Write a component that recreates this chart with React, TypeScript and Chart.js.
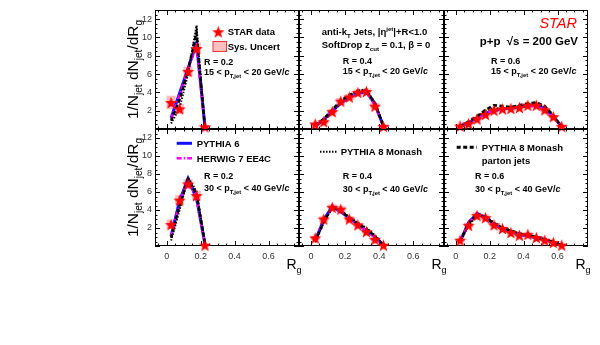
import React, { useEffect, useRef } from 'react';
import { Chart, registerables } from 'chart.js';
Chart.register(...registerables);

// ---------- data ----------
const BINS_R02 = [0.025, 0.075, 0.125, 0.175, 0.225];
const BINS_R04 = [0.025, 0.075, 0.125, 0.175, 0.225, 0.275, 0.325, 0.375, 0.425];
const BINS_R06 = [0.025, 0.075, 0.125, 0.175, 0.225, 0.275, 0.325, 0.375, 0.425, 0.475, 0.525, 0.575, 0.625];

const X_TICKS = [0, 0.2, 0.4, 0.6];
const Y_TICKS = [0, 2, 4, 6, 8, 10, 12];
const X_MIN = -0.07;
const X_MAX = 0.78;
const Y_MIN = 0;
const Y_MAX = 13;
const X_MINOR_STEP = 0.05;
const Y_MINOR_STEP = 0.5;

// R = 0.2, 15 < pT < 20
const STAR_R02_LO = [2.9, 2.2, 6.3, 8.8, 0.25];
const SYS_R02_LO = [0.7, 0.5, 0.5, 0.6, 0.1];
const PY6_R02_LO = [1.2, 3.9, 6.6, 9.4, 0.2];
const HW7_R02_LO = [1.1, 3.7, 6.5, 9.1, 0.2];
const PY8_R02_LO = [0.6, 2.3, 6.0, 11.3, 0.1];
const PY8P_R02_LO = [0.9, 3.2, 6.4, 10.5, 0.1];

// R = 0.4, 15 < pT < 20
const STAR_R04_LO = [0.55, 0.8, 1.9, 3.05, 3.5, 4.0, 4.1, 2.5, 0.3];
const SYS_R04_LO = [0.15, 0.2, 0.25, 0.3, 0.3, 0.3, 0.3, 0.3, 0.1];
const PY6_R04_LO = [0.35, 1.0, 2.0, 2.8, 3.5, 3.9, 4.1, 2.7, 0.3];
const HW7_R04_LO = [0.35, 1.0, 2.0, 2.9, 3.5, 3.9, 4.0, 2.6, 0.3];
const PY8_R04_LO = [0.3, 0.9, 1.8, 2.9, 3.7, 4.2, 4.3, 2.9, 0.4];
const PY8P_R04_LO = [0.4, 1.1, 2.1, 3.1, 3.7, 4.1, 4.2, 2.8, 0.3];

// R = 0.6, 15 < pT < 20
const STAR_R06_LO = [0.33, 0.6, 1.1, 1.6, 2.05, 2.2, 2.25, 2.35, 2.6, 2.6, 2.1, 1.35, 0.3];
const SYS_R06_LO = [0.1, 0.1, 0.15, 0.2, 0.2, 0.2, 0.2, 0.2, 0.25, 0.25, 0.2, 0.15, 0.1];
const PY6_R06_LO = [0.3, 0.7, 1.2, 1.7, 2.0, 2.2, 2.3, 2.4, 2.5, 2.6, 2.2, 1.4, 0.25];
const HW7_R06_LO = [0.3, 0.7, 1.2, 1.7, 2.0, 2.15, 2.3, 2.4, 2.5, 2.5, 2.1, 1.3, 0.25];
const PY8_R06_LO = [0.2, 0.6, 1.3, 2.0, 2.3, 2.2, 2.3, 2.5, 2.7, 2.8, 2.4, 1.4, 0.2];
const PY8P_R06_LO = [0.3, 0.8, 1.4, 2.1, 2.6, 2.5, 2.4, 2.6, 2.8, 2.9, 2.5, 1.5, 0.2];

// R = 0.2, 30 < pT < 40
const STAR_R02_HI = [2.4, 5.1, 6.9, 5.6, 0.1];
const SYS_R02_HI = [0.5, 0.5, 0.5, 0.5, 0.1];
const PY6_R02_HI = [1.1, 5.0, 7.5, 5.3, 0.2];
const HW7_R02_HI = [1.0, 4.8, 7.3, 5.4, 0.2];
const PY8_R02_HI = [0.6, 4.0, 7.6, 6.1, 0.3];
const PY8P_R02_HI = [0.9, 4.5, 7.4, 5.8, 0.3];

// R = 0.4, 30 < pT < 40
const STAR_R04_HI = [0.9, 3.0, 4.3, 4.1, 3.0, 2.35, 1.6, 0.75, 0.1];
const SYS_R04_HI = [0.2, 0.3, 0.3, 0.3, 0.3, 0.2, 0.2, 0.15, 0.05];
const PY6_R04_HI = [0.6, 2.9, 4.4, 3.8, 3.1, 2.4, 1.7, 1.0, 0.1];
const HW7_R04_HI = [0.6, 2.8, 4.3, 3.9, 3.1, 2.4, 1.7, 1.0, 0.1];
const PY8_R04_HI = [0.4, 2.6, 4.2, 4.0, 3.2, 2.6, 2.0, 1.2, 0.1];
const PY8P_R04_HI = [0.5, 2.7, 4.3, 3.9, 3.1, 2.5, 1.9, 1.1, 0.1];

// R = 0.6, 30 < pT < 40
const STAR_R06_HI = [0.65, 2.3, 3.4, 3.15, 2.35, 1.95, 1.5, 1.2, 1.3, 0.95, 0.65, 0.4, 0.1];
const SYS_R06_HI = [0.15, 0.25, 0.3, 0.3, 0.2, 0.2, 0.15, 0.15, 0.15, 0.1, 0.1, 0.1, 0.05];
const PY6_R06_HI = [0.5, 2.6, 3.6, 3.2, 2.4, 1.9, 1.6, 1.3, 1.1, 0.9, 0.7, 0.4, 0.1];
const HW7_R06_HI = [0.5, 2.5, 3.5, 3.2, 2.4, 1.9, 1.6, 1.3, 1.1, 0.9, 0.7, 0.4, 0.1];
const PY8_R06_HI = [0.4, 2.3, 3.4, 3.3, 2.6, 2.1, 1.7, 1.4, 1.2, 1.0, 0.8, 0.5, 0.1];
const PY8P_R06_HI = [0.5, 2.5, 3.5, 3.2, 2.5, 2.0, 1.7, 1.4, 1.2, 1.0, 0.7, 0.4, 0.1];

// ---------- layout ----------
const W = 600;
const H = 345;
const COLS = [[155, 299], [299, 444], [444, 588]];
const ROWS = [[10, 129], [129, 246]];
const FONT = '"Liberation Sans", Arial, Helvetica, sans-serif';

type Panel = {
  col: number; row: number; bins: number[];
  star: number[]; sys: number[]; py6: number[]; hw7: number[]; py8: number[]; py8p: number[];
};

const PANELS: Panel[] = [
  { col: 0, row: 0, bins: BINS_R02, star: STAR_R02_LO, sys: SYS_R02_LO, py6: PY6_R02_LO, hw7: HW7_R02_LO, py8: PY8_R02_LO, py8p: PY8P_R02_LO },
  { col: 1, row: 0, bins: BINS_R04, star: STAR_R04_LO, sys: SYS_R04_LO, py6: PY6_R04_LO, hw7: HW7_R04_LO, py8: PY8_R04_LO, py8p: PY8P_R04_LO },
  { col: 2, row: 0, bins: BINS_R06, star: STAR_R06_LO, sys: SYS_R06_LO, py6: PY6_R06_LO, hw7: HW7_R06_LO, py8: PY8_R06_LO, py8p: PY8P_R06_LO },
  { col: 0, row: 1, bins: BINS_R02, star: STAR_R02_HI, sys: SYS_R02_HI, py6: PY6_R02_HI, hw7: HW7_R02_HI, py8: PY8_R02_HI, py8p: PY8P_R02_HI },
  { col: 1, row: 1, bins: BINS_R04, star: STAR_R04_HI, sys: SYS_R04_HI, py6: PY6_R04_HI, hw7: HW7_R04_HI, py8: PY8_R04_HI, py8p: PY8P_R04_HI },
  { col: 2, row: 1, bins: BINS_R06, star: STAR_R06_HI, sys: SYS_R06_HI, py6: PY6_R06_HI, hw7: HW7_R06_HI, py8: PY8_R06_HI, py8p: PY8P_R06_HI },
];

const BLUE = '#1010ff';
const MAGENTA = '#ff00ff';
const RED = '#ff0000';

function makeStar(size: number): HTMLCanvasElement {
  const c = document.createElement('canvas');
  c.width = size; c.height = size;
  const ctx = c.getContext('2d')!;
  const cx = size / 2, cy = size / 2 + size * 0.05, R = size / 2, r = R * 0.42;
  ctx.beginPath();
  for (let i = 0; i < 10; i++) {
    const rad = i % 2 === 0 ? R : r;
    const a = -Math.PI / 2 + (i * Math.PI) / 5;
    ctx.lineTo(cx + rad * Math.cos(a), cy + rad * Math.sin(a));
  }
  ctx.closePath();
  ctx.fillStyle = RED;
  ctx.fill();
  return c;
}

type Seg = { t: string; sub?: boolean; sup?: boolean; italic?: boolean };

function drawRich(ctx: CanvasRenderingContext2D, x: number, y: number, segs: Seg[], size: number, bold: boolean, align: 'left' | 'right' | 'center' = 'left', color = '#000') {
  const fontFor = (s: Seg) => `${s.italic ? 'italic ' : ''}${bold ? 'bold ' : ''}${s.sub || s.sup ? size * 0.65 : size}px ${FONT}`;
  let total = 0;
  const widths = segs.map((s) => { ctx.font = fontFor(s); const w = ctx.measureText(s.t).width; total += w; return w; });
  let cx = align === 'right' ? x - total : align === 'center' ? x - total / 2 : x;
  ctx.fillStyle = color;
  ctx.textAlign = 'left';
  ctx.textBaseline = 'alphabetic';
  segs.forEach((s, i) => {
    ctx.font = fontFor(s);
    const dy = s.sub ? size * 0.3 : s.sup ? -size * 0.42 : 0;
    ctx.fillText(s.t, cx, y + dy);
    cx += widths[i];
  });
}

function ptSegs(lo: string, hi: string): Seg[] {
  return [{ t: `${lo} < p` }, { t: 'T,jet', sub: true }, { t: ` < ${hi} GeV/` }, { t: 'c', italic: true }];
}

function legendLine(ctx: CanvasRenderingContext2D, x0: number, x1: number, y: number, color: string, width: number, dash: number[]) {
  ctx.save();
  ctx.strokeStyle = color; ctx.lineWidth = width; ctx.setLineDash(dash);
  ctx.beginPath(); ctx.moveTo(x0, y); ctx.lineTo(x1, y); ctx.stroke();
  ctx.restore();
}

const DASH_HW7 = [5, 2, 1.5, 2];
const DASH_PY8 = [1.5, 1.5];
const DASH_PY8P = [4, 2.5];

function drawAnnotations(ctx: CanvasRenderingContext2D, idx: number, star: HTMLCanvasElement) {
  ctx.save();
  if (idx === 0) {
    ctx.drawImage(star, 218.3 - 6.5, 31.7 - 6.5, 13, 13);
    drawRich(ctx, 227.7, 34.9, [{ t: 'STAR data' }], 9.5, true);
    ctx.fillStyle = 'rgba(255,0,0,0.25)';
    ctx.fillRect(212.7, 41, 14, 10.7);
    ctx.strokeStyle = 'rgba(230,40,40,0.9)'; ctx.lineWidth = 1;
    ctx.strokeRect(213, 41.5, 13.5, 10);
    drawRich(ctx, 227.7, 50, [{ t: 'Sys. Uncert' }], 9.5, true);
    drawRich(ctx, 204, 65, [{ t: 'R = 0.2' }], 9, true);
    drawRich(ctx, 204, 75, ptSegs('15', '20'), 9, true);
    // y-axis titles (shared)
    const yTitle: Seg[] = [{ t: '1/N' }, { t: 'jet', sub: true }, { t: ' dN' }, { t: 'jet', sub: true }, { t: '/dR' }, { t: 'g', sub: true }];
    for (const [t, b] of ROWS) {
      ctx.save();
      ctx.translate(132, (t + b) / 2);
      ctx.rotate(-Math.PI / 2);
      drawRich(ctx, 0, 5.5, yTitle, 15.5, false, 'center');
      ctx.restore();
    }
  } else if (idx === 1) {
    drawRich(ctx, 321.7, 35.1, [{ t: 'anti-k' }, { t: 'T', sub: true }, { t: ' Jets, |η' }, { t: 'jet', sup: true }, { t: '|+R<1.0' }], 9.5, true);
    drawRich(ctx, 321.7, 48.4, [{ t: 'SoftDrop z' }, { t: 'cut', sub: true }, { t: ' = 0.1, β = 0' }], 9.5, true);
    drawRich(ctx, 342.7, 64.3, [{ t: 'R = 0.4' }], 9, true);
    drawRich(ctx, 342.7, 74.3, ptSegs('15', '20'), 9, true);
  } else if (idx === 2) {
    drawRich(ctx, 577, 27.9, [{ t: 'STAR', italic: true }], 14.5, false, 'right', RED);
    drawRich(ctx, 578, 45.1, [{ t: 'p+p  √s = 200 GeV' }], 11.5, true, 'right');
    drawRich(ctx, 491, 64.3, [{ t: 'R = 0.6' }], 9, true);
    drawRich(ctx, 491, 74.3, ptSegs('15', '20'), 9, true);
  } else if (idx === 3) {
    legendLine(ctx, 176.7, 192, 143.3, BLUE, 3, []);
    drawRich(ctx, 196.7, 146.7, [{ t: 'PYTHIA 6' }], 9.5, true);
    legendLine(ctx, 176.7, 192, 158.3, MAGENTA, 2.5, DASH_HW7);
    drawRich(ctx, 196.7, 161.7, [{ t: 'HERWIG 7 EE4C' }], 9.5, true);
    drawRich(ctx, 204, 179.3, [{ t: 'R = 0.2' }], 9, true);
    drawRich(ctx, 204, 190.8, ptSegs('30', '40'), 9, true);
  } else if (idx === 4) {
    legendLine(ctx, 320, 336.7, 151.7, '#000', 2, DASH_PY8);
    drawRich(ctx, 340.7, 155.1, [{ t: 'PYTHIA 8 Monash' }], 9.5, true);
    drawRich(ctx, 342.7, 179.3, [{ t: 'R = 0.4' }], 9, true);
    drawRich(ctx, 342.7, 192.3, ptSegs('30', '40'), 9, true);
  } else if (idx === 5) {
    legendLine(ctx, 456.7, 476.7, 147.3, '#000', 3, DASH_PY8P);
    drawRich(ctx, 481.7, 150.7, [{ t: 'PYTHIA 8 Monash' }], 9.5, true);
    drawRich(ctx, 481.7, 164.1, [{ t: 'parton jets' }], 9.5, true);
    drawRich(ctx, 475, 179.3, [{ t: 'R = 0.6' }], 9, true);
    drawRich(ctx, 475, 192.3, ptSegs('30', '40'), 9, true);
  }
  // x-axis title
  const p = PANELS[idx];
  if (p.row === 1) {
    const right = COLS[p.col][1];
    drawRich(ctx, right - 12.5, 268.5, [{ t: 'R' }, { t: 'g', sub: true }], 14, false);
  }
  ctx.restore();
}

function buildConfig(p: Panel, idx: number, star: HTMLCanvasElement): any {
  const [L, R] = COLS[p.col];
  const [T, B] = ROWS[p.row];
  const showY = p.col === 0;
  const showX = p.row === 1;
  const yW = showY ? 22 : 0;
  const xH = showX ? 20 : 0;
  const pts = (vals: number[]) => p.bins.map((x, i) => ({ x, y: vals[i] }));

  const framePlugin = {
    id: 'frame' + idx,
    beforeDatasetsDraw(chart: any) {
      const { ctx, chartArea: a, scales } = chart;
      const xs = scales.x, ys = scales.y;
      ctx.save();
      ctx.strokeStyle = '#000';
      ctx.lineWidth = 1;
      ctx.strokeRect(Math.round(a.left) + 0.5, Math.round(a.top) + 0.5, Math.round(a.right - a.left) - 1, Math.round(a.bottom - a.top) - 1);
      ctx.beginPath();
      const kx0 = Math.ceil(X_MIN / X_MINOR_STEP), kx1 = Math.floor(X_MAX / X_MINOR_STEP);
      for (let k = kx0; k <= kx1; k++) {
        const v = k * X_MINOR_STEP;
        const major = X_TICKS.some((t) => Math.abs(t - v) < 1e-6);
        const px = Math.round(xs.getPixelForValue(v)) + 0.5;
        const len = major ? 5 : 2.5;
        ctx.moveTo(px, a.bottom); ctx.lineTo(px, a.bottom - len);
        ctx.moveTo(px, a.top); ctx.lineTo(px, a.top + len);
      }
      const ky0 = Math.ceil(Y_MIN / Y_MINOR_STEP), ky1 = Math.floor(Y_MAX / Y_MINOR_STEP);
      for (let k = ky0; k <= ky1; k++) {
        const v = k * Y_MINOR_STEP;
        const major = Y_TICKS.some((t) => Math.abs(t - v) < 1e-6);
        const py = Math.round(ys.getPixelForValue(v)) + 0.5;
        const len = major ? 5 : 2.5;
        ctx.moveTo(a.left, py); ctx.lineTo(a.left + len, py);
        ctx.moveTo(a.right, py); ctx.lineTo(a.right - len, py);
      }
      ctx.stroke();
      ctx.restore();
    },
    afterDraw(chart: any) {
      drawAnnotations(chart.ctx, idx, star);
    },
  };

  return {
    type: 'line',
    data: {
      datasets: [
        { label: 'STAR data', data: pts(p.star), showLine: false, pointStyle: star, pointRadius: 6, clip: false, order: 0 },
        { label: 'PYTHIA 8 Monash', data: pts(p.py8), borderColor: '#000', borderWidth: 2, borderDash: DASH_PY8, pointRadius: 0, tension: 0, order: 1 },
        { label: 'PYTHIA 8 Monash parton jets', data: pts(p.py8p), borderColor: '#000', borderWidth: 2.5, borderDash: DASH_PY8P, pointRadius: 0, tension: 0, order: 2 },
        { label: 'HERWIG 7 EE4C', data: pts(p.hw7), borderColor: MAGENTA, borderWidth: 2.5, borderDash: DASH_HW7, pointRadius: 0, tension: 0, order: 3 },
        { label: 'PYTHIA 6', data: pts(p.py6), borderColor: BLUE, borderWidth: 3, pointRadius: 0, tension: 0, order: 4 },
        {
          type: 'bar', label: 'Sys. Uncert',
          data: p.bins.map((x, i) => ({ x, y: [p.star[i] - p.sys[i], p.star[i] + p.sys[i]] })),
          backgroundColor: 'rgba(255,0,0,0.25)', borderWidth: 0, barPercentage: 1, categoryPercentage: 1, order: 5,
        },
      ],
    },
    options: {
      responsive: false,
      animation: false,
      events: [],
      layout: { autoPadding: false, padding: { left: L - yW, right: W - R, top: T, bottom: H - B - xH } },
      plugins: { legend: { display: false }, tooltip: { enabled: false } },
      scales: {
        x: {
          type: 'linear', min: X_MIN, max: X_MAX, offset: false, display: showX,
          grid: { display: false, drawTicks: false }, border: { display: false },
          afterBuildTicks: (s: any) => { s.ticks = X_TICKS.map((v) => ({ value: v })); },
          ticks: {
            font: { family: FONT, size: 9 }, color: '#333', padding: 5, maxRotation: 0, autoSkip: false,
            callback: (v: number) => (v === 0 ? '0' : Number(v).toFixed(1)),
          },
          afterFit: (s: any) => { s.height = xH; },
        },
        y: {
          type: 'linear', min: Y_MIN, max: Y_MAX, display: showY,
          grid: { display: false, drawTicks: false }, border: { display: false },
          afterBuildTicks: (s: any) => { s.ticks = Y_TICKS.map((v) => ({ value: v })); },
          ticks: {
            font: { family: FONT, size: 9 }, color: '#333', padding: 3, autoSkip: false,
            callback: (v: number) => (v === 0 ? '' : String(v)),
          },
          afterFit: (s: any) => { s.width = yW; },
        },
      },
    },
    plugins: [framePlugin],
  };
}

export default function App() {
  const refs = useRef<(HTMLCanvasElement | null)[]>([]);
  useEffect(() => {
    const star = makeStar(13);
    const charts = PANELS.map((p, i) => new Chart(refs.current[i]!, buildConfig(p, i, star)));
    return () => charts.forEach((c) => c.destroy());
  }, []);
  return (
    <div style={{ position: 'absolute', left: 0, top: 0, width: W, height: H, background: '#fff' }}>
      {PANELS.map((_, i) => (
        <canvas
          key={i}
          ref={(el) => { refs.current[i] = el; }}
          width={W}
          height={H}
          style={{ position: 'absolute', left: 0, top: 0 }}
        />
      ))}
    </div>
  );
}
